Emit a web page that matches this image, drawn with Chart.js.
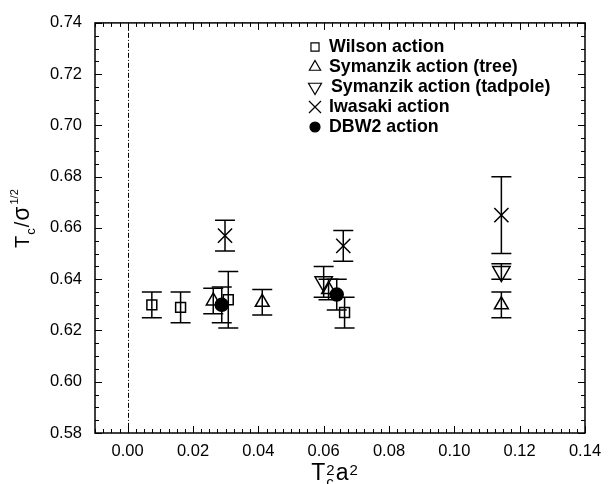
<!DOCTYPE html>
<html>
<head>
<meta charset="utf-8">
<script src="https://cdn.jsdelivr.net/npm/chart.js@4.4.0/dist/chart.umd.min.js"></script>
<style>
  html, body { margin: 0; padding: 0; background: #fff; }
</style>
</head>
<body>
<canvas id="chart" width="616" height="484"></canvas>
<script>
// Tc^2 a^2 (x), Tc/sqrt(sigma) (y) and its error, one set per action
const wilsonX = [0.0074, 0.0162, 0.0308, 0.0664];
const wilsonY = [0.630, 0.629, 0.632, 0.627];
const wilsonErr = [0.005, 0.006, 0.011, 0.006];

const treeX = [0.0262, 0.0412, 0.0615, 0.1144];
const treeY = [0.6315, 0.631, 0.636, 0.630];
const treeErr = [0.005, 0.005, 0.004, 0.005];

const tadX = [0.0600, 0.1144];
const tadY = [0.639, 0.643];
const tadErr = [0.006, 0.003];

const iwaX = [0.0298, 0.0660, 0.1144];
const iwaY = [0.657, 0.653, 0.665];
const iwaErr = [0.006, 0.006, 0.015];

const dbwX = [0.0288, 0.0640];
const dbwY = [0.630, 0.634];
const dbwErr = [0.007, 0.006];

const xTicks = [0.00, 0.02, 0.04, 0.06, 0.08, 0.10, 0.12, 0.14];
const yTicks = [0.58, 0.60, 0.62, 0.64, 0.66, 0.68, 0.70, 0.72, 0.74];

const labels = ["Wilson action", "Symanzik action (tree)", "Symanzik action (tadpole)", "Iwasaki action", "DBW2 action"];

const FONT = "'Liberation Sans', Arial, sans-serif";

const series = [
    { x: wilsonX, y: wilsonY, err: wilsonErr, style: "rect", rot: 0, r: 7, lr: 5.7, fill: false },
    { x: treeX, y: treeY, err: treeErr, style: "triangle", rot: 0, r: 8, lr: 6.5, fill: false },
    { x: tadX, y: tadY, err: tadErr, style: "triangle", rot: 180, r: 10, lr: 7.5, fill: false },
    { x: iwaX, y: iwaY, err: iwaErr, style: "crossRot", rot: 0, r: 10, lr: 8.5, fill: false },
    { x: dbwX, y: dbwY, err: dbwErr, style: "circle", rot: 0, r: 6.5, lr: 5, fill: true }
];

let ds = [];
for (let i = 0; i < series.length; ++i) {
    const s = series[i];
    ds.push({
        label: labels[i],
        data: s.x.map((v, j) => ({ x: v, y: s.y[j] })),
        pointStyle: s.style,
        rotation: s.rot,
        pointRadius: s.r,
        pointBorderWidth: 1.5,
        borderColor: "#000",
        backgroundColor: s.fill ? "#000" : "rgba(0,0,0,0)",
        showLine: false
    });
}

// draws a short run of text pieces (main / sub / sup) from (0,0) along +x
function richText(ctx, parts) {
    let x = 0;
    for (const p of parts) {
        ctx.font = p.size + "px " + FONT;
        ctx.fillText(p.t, x, p.dy);
        if (!p.stack) x += ctx.measureText(p.t).width + (p.gap || 0);
    }
    return x;
}

const framePlugin = {
    id: "frame",
    beforeDatasetsDraw(chart) {
        const ctx = chart.ctx;
        const sx = chart.scales.x, sy = chart.scales.y;
        const a = chart.chartArea;
        ctx.save();
        // dash-dot line at x = 0
        ctx.strokeStyle = "#000";
        ctx.lineWidth = 1;
        ctx.setLineDash([5, 2, 1, 2]);
        const x0 = Math.round(sx.getPixelForValue(0)) + 0.5;
        ctx.beginPath();
        ctx.moveTo(x0, a.top);
        ctx.lineTo(x0, a.bottom);
        ctx.stroke();
        ctx.setLineDash([]);
        // error bars
        ctx.lineWidth = 1.5;
        for (const s of series) {
            for (let j = 0; j < s.x.length; ++j) {
                const px = sx.getPixelForValue(s.x[j]);
                const top = sy.getPixelForValue(s.y[j] + s.err[j]);
                const bot = sy.getPixelForValue(s.y[j] - s.err[j]);
                ctx.beginPath();
                ctx.moveTo(px, top); ctx.lineTo(px, bot);
                ctx.moveTo(px - 10, top); ctx.lineTo(px + 10, top);
                ctx.moveTo(px - 10, bot); ctx.lineTo(px + 10, bot);
                ctx.stroke();
            }
        }
        ctx.restore();
    },
    afterDraw(chart) {
        const ctx = chart.ctx;
        const sx = chart.scales.x, sy = chart.scales.y;
        const a = chart.chartArea;
        ctx.save();
        ctx.strokeStyle = "#000";
        ctx.fillStyle = "#000";
        ctx.lineWidth = 1.5;
        ctx.strokeRect(a.left, a.top, a.right - a.left, a.bottom - a.top);

        // inward ticks on all four sides
        ctx.lineWidth = 1;
        ctx.beginPath();
        for (let k = 0; k <= 60; ++k) {
            const v = -0.01 + k * 0.0025;
            const px = Math.round(sx.getPixelForValue(v)) + 0.5;
            const major = xTicks.some(t => Math.abs(t - v) < 1e-6);
            const len = major ? 7 : 4;
            ctx.moveTo(px, a.bottom); ctx.lineTo(px, a.bottom - len);
            ctx.moveTo(px, a.top); ctx.lineTo(px, a.top + len);
        }
        for (let k = 0; k <= 32; ++k) {
            const v = 0.58 + k * 0.005;
            const py = Math.round(sy.getPixelForValue(v)) + 0.5;
            const len = k % 4 === 0 ? 7 : 4;
            ctx.moveTo(a.left, py); ctx.lineTo(a.left + len, py);
            ctx.moveTo(a.right, py); ctx.lineTo(a.right - len, py);
        }
        ctx.stroke();

        // legend
        const lx = 315, ly0 = 47, step = 20;
        ctx.textBaseline = "middle";
        ctx.textAlign = "left";
        for (let i = 0; i < series.length; ++i) {
            const s = series[i];
            const y = ly0 + i * step;
            ctx.lineWidth = 1.2;
            ctx.fillStyle = s.fill ? "#000" : "rgba(0,0,0,0)";
            Chart.helpers.drawPoint(ctx, {
                pointStyle: s.style, rotation: s.rot, radius: s.lr, borderWidth: 1.2
            }, lx, y);
            ctx.fillStyle = "#000";
            ctx.font = "bold 17.8px " + FONT;
            ctx.fillText(labels[i], lx + (i === 2 ? 16 : 14), y);
        }

        // x axis title: Tc^2 a^2
        ctx.textBaseline = "alphabetic";
        ctx.font = "23px " + FONT;
        let w = ctx.measureText("T").width + ctx.measureText("a").width;
        ctx.font = "15px " + FONT;
        w += 2 * ctx.measureText("2").width;
        ctx.save();
        ctx.translate(333 - w / 2, 480);
        richText(ctx, [
            { t: "T", size: 23, dy: 0, gap: 1 },
            { t: "c", size: 15, dy: 7, stack: true },
            { t: "2", size: 15, dy: -5, gap: 1 },
            { t: "a", size: 23, dy: 0, gap: 1 },
            { t: "2", size: 15, dy: -5 }
        ]);
        ctx.restore();

        // y axis title: Tc / sigma^(1/2)
        ctx.save();
        ctx.translate(29, 248);
        ctx.rotate(-Math.PI / 2);
        richText(ctx, [
            { t: "T", size: 20, dy: 0, gap: 1 },
            { t: "c", size: 13, dy: 6, gap: 1 },
            { t: "/", size: 20, dy: 0, gap: 1 },
            { t: "\u03c3", size: 23, dy: 0, gap: 2 },
            { t: "1/2", size: 11, dy: -11 }
        ]);
        ctx.restore();
        ctx.restore();
    }
};

new Chart(document.getElementById("chart"), {
    type: "scatter",
    data: { datasets: ds },
    options: {
        responsive: false,
        animation: false,
        devicePixelRatio: 1,
        layout: { padding: { top: 17, right: 31, left: 0, bottom: 0 } },
        plugins: { legend: { display: false }, tooltip: { enabled: false } },
        scales: {
            x: {
                type: "linear",
                min: -0.01,
                max: 0.14,
                afterBuildTicks: s => { s.ticks = xTicks.map(v => ({ value: v })); },
                afterFit: s => { s.height = 51; },
                ticks: {
                    callback: v => v.toFixed(2),
                    color: "#000",
                    font: { family: FONT, size: 16.5 },
                    padding: 9,
                    maxRotation: 0,
                    autoSkip: false
                },
                grid: { display: false, drawTicks: false },
                border: { display: false }
            },
            y: {
                type: "linear",
                min: 0.58,
                max: 0.74,
                afterBuildTicks: s => { s.ticks = yTicks.map(v => ({ value: v })); },
                afterFit: s => { s.width = 95; },
                ticks: {
                    callback: v => v.toFixed(2),
                    color: "#000",
                    font: { family: FONT, size: 16.5 },
                    padding: 13,
                    autoSkip: false
                },
                grid: { display: false, drawTicks: false },
                border: { display: false }
            }
        }
    },
    plugins: [framePlugin]
});
</script>
</body>
</html>
